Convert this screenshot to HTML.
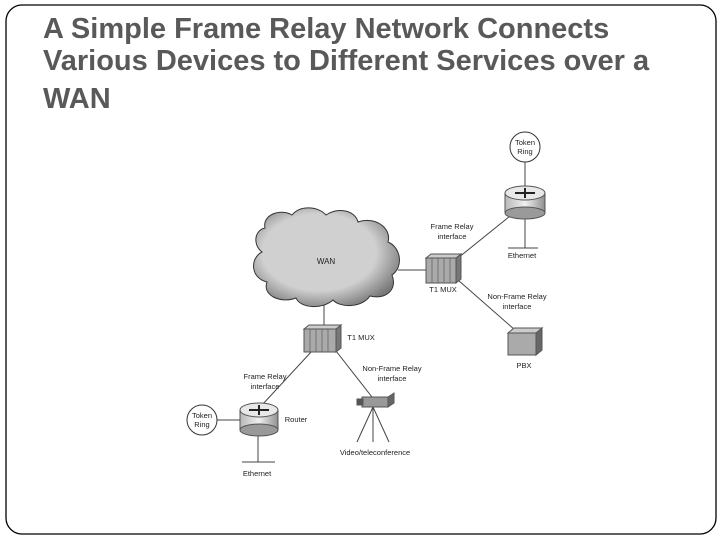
<!DOCTYPE html>
<html><head><style>
body{margin:0;width:720px;height:540px;background:#fff;overflow:hidden;font-family:"Liberation Sans",sans-serif}
.t{position:absolute;left:43px;font-size:29px;font-weight:bold;color:#595959;white-space:nowrap;line-height:32px}
svg{position:absolute;left:0;top:0}
</style></head><body>
<svg width="720" height="540">
<defs>
<radialGradient id="cg" cx="0.45" cy="0.45" r="0.6"><stop offset="0.65" stop-color="#d0d0d0"/><stop offset="1" stop-color="#7a7a7a"/></radialGradient>
<linearGradient id="rg" x1="0" x2="1"><stop offset="0" stop-color="#b8b8b8"/><stop offset="0.5" stop-color="#f0f0f0"/><stop offset="1" stop-color="#909090"/></linearGradient>
</defs>
<rect x="6" y="5" width="710" height="529" rx="16" fill="none" stroke="#000" stroke-width="1.3"/>
<g stroke="#444" stroke-width="1" fill="none">
<line x1="398" y1="270" x2="428" y2="270"/>
<line x1="324" y1="305" x2="324" y2="327"/>
<line x1="525" y1="162" x2="525" y2="186"/>
<line x1="515" y1="212" x2="458" y2="258"/>
<line x1="525" y1="212" x2="525" y2="248"/><line x1="508" y1="248" x2="538" y2="248"/>
<line x1="458" y1="280" x2="515" y2="330"/>
<line x1="312" y1="351" x2="262" y2="405"/>
<line x1="336" y1="351" x2="372" y2="397"/>
<line x1="217" y1="420" x2="241" y2="420"/>
<line x1="258" y1="430" x2="258" y2="462"/><line x1="242" y1="462" x2="275" y2="462"/>
<line x1="373" y1="407" x2="357" y2="442"/><line x1="373" y1="407" x2="373" y2="442"/><line x1="373" y1="407" x2="389" y2="442"/>
</g>
<path d="M265,228 C262,215 280,208 292,215 C300,205 318,206 326,215 C338,207 355,210 358,222 C375,216 392,228 388,242 C402,248 403,268 392,275 C398,290 385,300 370,296 C362,308 340,308 333,300 C322,310 300,308 296,298 C280,304 262,295 267,282 C250,278 250,258 262,252 C252,244 255,230 265,228Z" fill="url(#cg)" stroke="#333"/>
<circle cx="525" cy="147" r="15" fill="#fff" stroke="#333"/>
<circle cx="202" cy="420" r="15" fill="#fff" stroke="#333"/>
<g>
<rect x="505" y="193" width="40" height="20" fill="url(#rg)" stroke="#555"/><ellipse cx="525" cy="213" rx="20" ry="6" fill="#9a9a9a" stroke="#555"/><ellipse cx="525" cy="193" rx="20" ry="7" fill="#e8e8e8" stroke="#555"/>
<path d="M515,193 L535,193 M525,188 L525,198" stroke="#222" stroke-width="2"/>
<rect x="240" y="410" width="38" height="20" fill="url(#rg)" stroke="#555"/><ellipse cx="259" cy="430" rx="19" ry="6" fill="#9a9a9a" stroke="#555"/><ellipse cx="259" cy="410" rx="19" ry="7" fill="#e8e8e8" stroke="#555"/>
<path d="M249,410 L269,410 M259,405 L259,415" stroke="#222" stroke-width="2"/>
</g>
<g fill="#aaa" stroke="#555">
<rect x="426" y="258" width="30" height="25"/><polygon points="456,258 461,254 461,279 456,283" fill="#777"/><polygon points="426,258 431,254 461,254 456,258" fill="#ccc"/>
<rect x="304" y="329" width="32" height="23"/><polygon points="336,329 341,325 341,348 336,352" fill="#777"/><polygon points="304,329 309,325 341,325 336,329" fill="#ccc"/>
<rect x="508" y="333" width="28" height="22"/><polygon points="536,333 542,328 542,350 536,355" fill="#666"/><polygon points="508,333 514,328 542,328 536,333" fill="#ccc"/>
<rect x="362" y="397" width="26" height="10" fill="#999"/><polygon points="388,397 394,393 394,403 388,407" fill="#666"/><rect x="357" y="399" width="6" height="6" fill="#555"/>
</g>
<g stroke="#666" stroke-width="0.8"><line x1="432" y1="258" x2="432" y2="283"/><line x1="438" y1="258" x2="438" y2="283"/><line x1="444" y1="258" x2="444" y2="283"/><line x1="450" y1="258" x2="450" y2="283"/>
<line x1="310" y1="329" x2="310" y2="352"/><line x1="316" y1="329" x2="316" y2="352"/><line x1="322" y1="329" x2="322" y2="352"/><line x1="328" y1="329" x2="328" y2="352"/></g>
<g font-family="Liberation Sans,sans-serif" font-size="7.5" fill="#222" text-anchor="middle">
<text x="525" y="145">Token</text><text x="525" y="154">Ring</text>
<text x="202" y="418">Token</text><text x="202" y="427">Ring</text>
<text x="326" y="264" font-size="8">WAN</text>
<text x="452" y="229">Frame Relay</text><text x="452" y="239">interface</text>
<text x="522" y="258">Ethernet</text>
<text x="443" y="292">T1 MUX</text>
<text x="517" y="299">Non-Frame Relay</text><text x="517" y="309">interface</text>
<text x="524" y="368">PBX</text>
<text x="361" y="340">T1 MUX</text>
<text x="265" y="379">Frame Relay</text><text x="265" y="389">interface</text>
<text x="392" y="371">Non-Frame Relay</text><text x="392" y="381">interface</text>
<text x="296" y="422">Router</text>
<text x="375" y="455">Video/teleconference</text>
<text x="257" y="476">Ethernet</text>
</g>
</svg>
<div class="t" style="top:13px">A Simple Frame Relay Network Connects</div>
<div class="t" style="top:45px">Various Devices to Different Services over a</div>
<div class="t" style="top:83px">WAN</div>
</body></html>
